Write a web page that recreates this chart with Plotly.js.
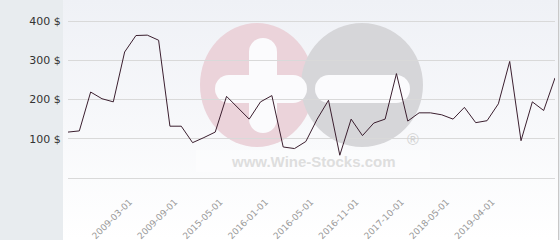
<!DOCTYPE html>
<html>
<head>
<meta charset="utf-8">
<script src="https://cdn.plot.ly/plotly-3.0.1.min.js"></script>
<style>
html,body{margin:0;padding:0;background:#e8ecef;}
#chart{width:560px;height:240px;
  background:
    linear-gradient(to right, #e8ecef 0, #e8ecef 63px, rgba(0,0,0,0) 63px),
    linear-gradient(to right, rgba(0,0,0,0) 558px, #c8c8c8 558px, #c8c8c8 559px, #e8ecef 559px),
    linear-gradient(to bottom, #eff1f6 0, #ffffff 240px);
}
</style>
</head>
<body>
<div id="chart"></div>
<script>
// ---- data ----
const dates = [
  "2008-04-01","2008-06-01","2008-09-01","2008-11-01","2009-01-01",
  "2009-03-01","2009-04-01","2009-05-01","2009-07-01","2009-09-01",
  "2010-06-01","2012-03-01","2014-01-01","2015-05-01","2015-07-01",
  "2015-09-01","2015-11-01","2016-01-01","2016-02-01","2016-03-01",
  "2016-04-01","2016-05-01","2016-06-01","2016-08-01","2016-09-01",
  "2016-11-01","2017-01-01","2017-04-01","2017-07-01","2017-10-01",
  "2017-12-01","2018-02-01","2018-03-01","2018-05-01","2018-07-01",
  "2018-10-01","2019-01-01","2019-04-01","2019-06-01","2019-09-01",
  "2019-12-01","2020-03-01","2020-06-01","2020-09-01"
];
const prices = [
  117,120,219,202,194,321,363,364,351,132,
  132,90,103,117,208,180,150,194,210,79,
  75,93,150,198,58,150,108,140,150,266,
  145,166,166,161,150,180,141,146,189,297,
  95,194,172,255
];
const tickDates = ["2009-03-01","2009-09-01","2015-05-01","2016-01-01","2016-05-01",
                   "2016-11-01","2017-10-01","2018-05-01","2019-04-01"];
const yTickVals = [0,100,200,300,400];
const yTickText = ["","100 $","200 $","300 $","400 $"];

// ---- layout helpers (pixel -> axis units, for the decorative watermark) ----
const W = 560, H = 240, L = 68, R = 5, T = 19, B = 60;
const pw = W - L - R, ph = H - T - B;
const XMAX = dates.length - 1, YMIN = -5.1, YMAX = 405.1;
const dx = x => (x - L) / pw * XMAX;
const dy = y => YMIN + (H - B - y) / ph * (YMAX - YMIN);
function circ(cx, cy, rx, ry, color, opacity) {
  return {type:'circle', xref:'x', yref:'y', layer:'below',
    x0:dx(cx-rx), x1:dx(cx+rx), y0:dy(cy+ry), y1:dy(cy-ry),
    fillcolor:color, opacity:opacity||1, line:{width:0}};
}
function rect(x0, y0, x1, y1, color, opacity) {
  return {type:'rect', xref:'x', yref:'y', layer:'below',
    x0:dx(x0), x1:dx(x1), y0:dy(y1), y1:dy(y0),
    fillcolor:color, opacity:opacity||1, line:{width:0}};
}
const white = '#fbfbfd';
const shapes = [
  rect(196, 150, 430, 172, '#ffffff', 0.35),
  circ(257, 85, 57, 62, '#ebd3da'),
  circ(362, 85, 61, 62, '#d6d6d9'),
  rect(249, 52, 277, 119, white), circ(263, 52, 14, 14, white), circ(263, 119, 14, 14, white),
  rect(229, 75, 293, 103, white), circ(229, 89, 14, 14, white), circ(293, 89, 14, 14, white),
  rect(329, 75, 396, 103, white), circ(329, 89, 14, 14, white), circ(396, 89, 14, 14, white)
];

const trace = {
  type:'scatter', mode:'lines', x:dates, y:prices,
  line:{color:'#3b1f2f', width:1}, hoverinfo:'x+y', cliponaxis:false
};

const layout = {
  width:W, height:H,
  margin:{l:L, r:R, t:T, b:B, pad:0},
  paper_bgcolor:'rgba(0,0,0,0)',
  plot_bgcolor:'rgba(0,0,0,0)',
  showlegend:false,
  font:{family:'DejaVu Sans, Verdana, sans-serif'},
  xaxis:{
    type:'category', range:[0, XMAX],
    tickmode:'array', tickvals:tickDates, ticktext:tickDates,
    tickangle:-45, tickfont:{size:9, color:'#9a9a9a'},
    showgrid:false, zeroline:false, showline:false,
    ticks:'', ticklabelstandoff:14, ticklabelshift:5
  },
  yaxis:{
    range:[YMIN, YMAX], tickmode:'array', tickvals:yTickVals, ticktext:yTickText,
    tickfont:{size:11, color:'#333333'},
    showgrid:true, gridcolor:'#d9d9d9', gridwidth:1, zeroline:false, showline:false,
    ticks:'outside', ticklen:4, tickcolor:'rgba(0,0,0,0)'
  },
  shapes:shapes,
  annotations:[
    {xref:'x', yref:'y', x:dx(313), y:dy(161), text:'<b>www.Wine-Stocks.com</b>',
     showarrow:false, font:{family:'Liberation Sans, Arial, sans-serif', size:15, color:'#dedede'}},
    {xref:'x', yref:'y', x:dx(413), y:dy(139), text:'®',
     showarrow:false, font:{family:'Liberation Sans, Arial, sans-serif', size:16, color:'#d2d2d2'}}
  ]
};

Plotly.newPlot('chart', [trace], layout, {displayModeBar:false, staticPlot:true});
</script>
</body>
</html>
